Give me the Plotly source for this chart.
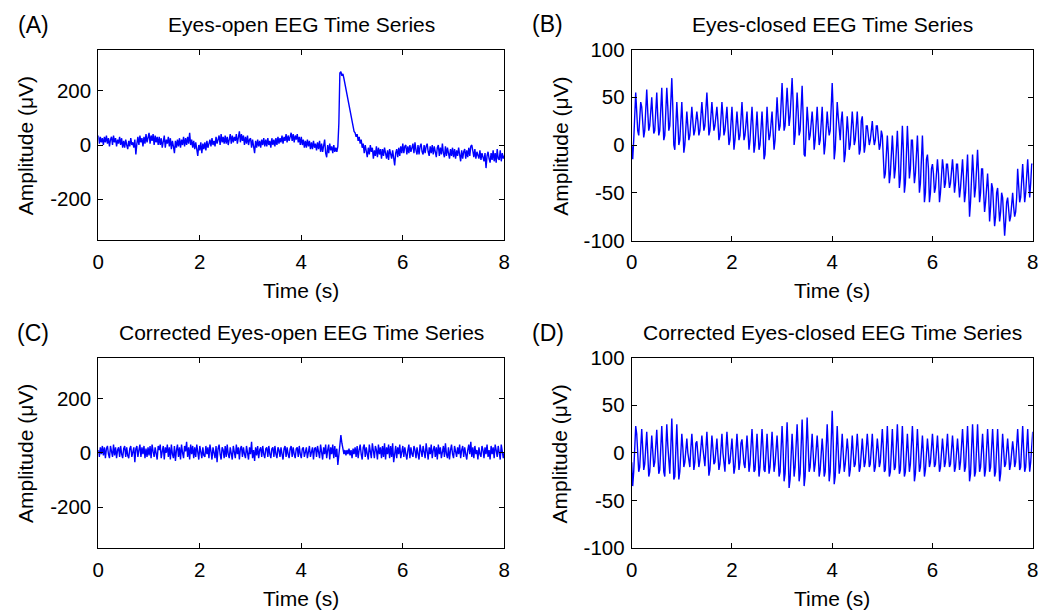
import numpy as np
import plotly.graph_objects as go

# ---------------- data (µV, 50 samples/s over 8 s) ----------------
eyes_open = [
    35, 5, 30, 10, 25,  0, 30, 10, 35, 5,  25, -5, 20, 30, 0,  35, 10, 25, -5, 20,
    5, 30, 0, 25, -10,  15, -10, 20, 0, -15,  15, -5, 25, 0, 10,  -10, 20, -35, 5, 30,
    0, 35, 10, 25, -5,  30, 5, 40, 10, 30,
    45, 5, 35, 15, 40,  0, 35, 10, 30, 0,  30, 0, 25, -10, 20,  35, -10, 20, 5, 30,
    -5, 25, -15, 15, -5,  -30, 15, -10, 20, -5,  25, -10, 20, 0, 30,  -5, 25, 0, 30, 5,
    45, 0, 20, -10, 15,  -15, 10, -25, -40, 0,
    -20, 10, -30, 5, -15,  10, -20, 15, -10, 5,  20, -5, 25, 0, 15,  -5, 30, 5, 25, 35,
    0, 40, 10, 30, 5,  35, 5, 30, 0, 25,  40, 5, 35, 10, 30,  15, 40, 5, 30, 50,
    10, 40, 15, 35, 0,  30, 5, 35, 0, 20,
    25, -10, 20, -15, -30,  15, -10, 20, -5, 15,  -10, 20, 0, 25, -5,  20, -5, 25, 0, 15,
    -10, 25, 0, 20, -5,  25, 0, 30, 5, 25,  10, 35, 5, 30, 15,  40, 10, 35, 15, 30,
    45, 15, 40, 10, 35,  20, 40, 10, 30, 0,
    30, 0, 20, -10, 15,  -10, 20, -5, 15, -15,  10, -15, 15, -10, 5,  -20, 10, -15, 15, -25,
    5, -25, 0, 20, -30,  -45, 0, -30, 5, -20,  -5, -30, 0, -25, -10,
    -25, -5, 80, 265, 270,  255, 262, 245, 225, 200,  185, 160, 140, 120, 100,
    80, 65, 50, 45, 30,  40, 15, 30, 5, 20,  -10, 5, -30, 0, -20,  -45, -10, -35, 0, -25,
    -10, -50, -20, -40, -5,  -45, -10, -35, -15, -50,  -15, -40, -10, -35, -50,
    -20, -55, -15, -40, -50,  -20, -55, -75, -30, -15,  -45, -10, -40, -5, -30,
    5, -30, -5, 0, -35,  -5, -30, 0, -25, -10,  5, -30, 10, -20, -35,
    0, -35, -5, 5, -25,  -35, 0, -30, -5, 5,  -25, -40, -5, -30, 0,
    -35, -5, -30, -45, -10,  0, -40, -10, -35, 5,  -30, -45, -5, -40, -10,
    -35, -50, -15, -40, -10,
    -45, -15, -50, -20, -40,  -10, -45, -60, -20, -50,  -25, -15, -50, -20, -45,
    -10, -40, -5, 0, -35,  -45, -15, -50, -25, -35,  -50, -20, -55, -30, -45,
    -60, -30, -85, -40, -25,  -50, -65, -30, -55, -20,  -60, -30, -65, -15, -50,
    -55, -20, -60, -30, -50,
    -40,
]

eyes_closed = [
    0, -15, 5, 40, 55,  35, 15, 10, 25, 45,  40, 20, 8, 15, 35,  58, 35, 15, 20, 40,
    50, 30, 12, 15, 35,  55, 30, 10, 15, 40,  60, 30, 5, 10, 35,  60, 40, 15, 20, 45,
    70, 40, 0, -5, 20,  45, 25, 0, 5, 30,
    45, 20, -8, 0, 25,  35, 20, 5, 10, 25,  40, 25, 10, 15, 30,  35, 25, 10, 15, 30,
    45, 30, 15, 20, 35,  55, 35, 10, 15, 35,  45, 30, 15, 20, 35,  40, 25, 5, 10, 30,
    45, 30, 10, 15, 30,  40, 20, 0, 5, 25,
    40, 20, -5, 5, 25,  35, 20, 5, 10, 25,  45, 25, 5, 10, 30,  35, 15, -5, 5, 25,
    40, 20, -8, 0, 25,  35, 15, -5, 0, 20,  35, 15, -15, -10, 20,  40, 20, 5, 10, 25,
    35, 15, -5, 5, 30,  50, 30, 15, 20, 45,
    65, 40, 15, 20, 45,  60, 40, 20, 30, 55,  70, 45, 0, 10, 40,  55, 35, 10, 15, 40,
    62, 30, -10, -12, 20,  40, 25, 5, 10, 30,  35, 20, -5, 5, 25,  40, 20, 0, 5, 25,
    40, 15, -10, 0, 25,  35, 20, 10, 15, 40,
    65, 35, -15, -5, 30,  45, 30, 10, 5, 25,  35, 15, -18, -10, 20,  30, 15, -5, 0, 25,
    35, 20, 0, 5, 25,  35, 15, -10, -5, 25,  30, 15, -8, 0, 20,  20, 10, 0, 5, 15,
    25, 10, 0, 5, 20,  20, 10, -5, 0, 15,
    10, -15, -35, -30, -5,  10, -10, -40, -30, -5,  10, -10, -35, -25, 0,  15, -10, -45, -35, -10,
    20, -5, -50, -40, -5,  20, -5, -35, -25, 5,  5, -15, -40, -30, 0,  10, -15, -50, -40, -10,
    10, -20, -60, -50, -15,  -10, -25, -60, -50, -25,
    -20, -30, -50, -45, -25,  -15, -30, -60, -50, -25,  -15, -25, -45, -40, -20,  -20, -30, -45, -40, -25,
    -15, -30, -50, -40, -20,  -20, -35, -55, -45, -25,  -15, -35, -60, -50, -20,  -10, -40, -75, -60, -20,
    -10, -30, -55, -45, -15,  -5, -30, -60, -50, -25,
    -25, -45, -70, -60, -40,  -30, -50, -80, -65, -40,  -45, -65, -85, -75, -50,  -45, -60, -80, -70, -50,
    -55, -75, -95, -80, -60,  -55, -65, -80, -75, -60,  -50, -65, -75, -70, -55,  -25, -45, -60, -55, -35,
    -20, -40, -60, -50, -25,  -15, -35, -55, -40, -20,
    -20,
]

corrected_open = [
    10, -15, 20, -5, 25,  -10, 20, -20, 15, 25,  -5, -20, 25, 10, -15,  30, -10, 20, -20, 10,
    20, -15, 25, -5, -20,  15, 25, -15, 20, -10,  -20, 15, 25, -15, 5,  20, -35, 15, 25, -15,
    10, 30, -15, 20, -5,  25, -20, 15, -15, 20,
    -10, 25, -20, 30, 5,  -15, 20, -5, -25, 25,  10, 30, -20, 5, 25,  -25, 20, 0, 30, -15,
    20, -25, 30, -5, -20,  25, -30, 10, 30, -15,  20, -25, 30, 0, -20,  25, 5, 40, -15, 20,
    -25, 30, -5, 25, -20,  20, -15, 30, -5, -25,
    25, 0, -20, 20, -10,  -15, 25, -5, 20, -20,  30, 5, -25, 20, -5,  -20, 25, -35, 15, 30,
    -5, -25, 20, 10, -20,  25, -15, 30, -5, -20,  20, -10, -25, 25, 5,  -20, 30, -5, 20, -25,
    15, 25, -15, 20, -5,  -20, 25, 5, -25, 20,
    -5, 40, -20, 10, -30,  20, -10, 25, -20, 10,  20, -15, 25, -5, -20,  15, 20, -15, 25, -5,
    -20, 15, 20, -15, 25,  -5, -20, 20, 10, -15,  20, -5, -25, 15, 25,  -15, 20, -5, -20, 15,
    25, -15, 20, -5, -20,  15, 20, -15, 25, -5,
    -20, 15, 20, -15, 5,  20, -20, 10, 25, -15,  5, 20, -25, 15, 20,  -15, 25, -5, -20, 30,
    10, -25, 20, -5, 30,  -20, 10, 30, -25, 20,  -5, 30, -20, 25, -15,  15, -45, -5, 25, 65,
    35, 10, -5, 10, -10,  10, -5, 15, -10, 10,
    -20, 15, -5, 20, -15,  25, -20, 10, 30, -5,  -25, 20, 30, -15, 20,  -5, -25, 30, 10, -20,
    35, -5, -20, 25, 10,  -25, 30, -5, 20, -20,  25, -15, 35, -25, 20,  -5, 30, -20, 25, -15,
    35, -35, 10, 25, -20,  20, -5, 30, -20, 10,
    25, -15, 20, -5, -25,  10, 30, -20, 20, -5,  -15, 25, 10, -20, 20,  -5, -25, 30, 10, -15,
    25, -5, -20, 35, 10,  -25, 20, -5, 30, -20,  10, 25, -15, 20, -25,  30, -5, 20, -20, 10,
    25, -15, 35, -5, -20,  20, -25, 10, 30, -5,
    -20, 25, 10, -15, 20,  -5, 30, -20, 10, 25,  -15, 20, -5, -25, 10,  30, -5, 40, -15, 20,
    -20, 25, -5, 10, -25,  20, -5, -15, 25, 10,  -20, 20, -5, 30, -15,  10, -25, 25, -5, 20,
    -20, 30, 10, -15, 25,  -5, -25, 30, 10, -20,
    0,
]

corrected_closed = [
    -10, -35, -20, 15, 28,  20, -5, -20, -15, 10,  25, 5, -18, -12, 8,  22, 0, -25, -20, 5,
    18, 2, -15, -10, 10,  24, 0, -22, -18, 8,  28, 5, -20, -25, 0,  30, 8, -15, -22, 5,
    36, 5, -28, -25, 10,  30, 0, -28, -20, 8,
    20, 5, -15, -10, 8,  15, 0, -12, -15, 5,  20, 3, -18, -10, 10,  12, 0, -15, -8, 6,
    18, 5, -10, -14, 4,  22, 2, -24, -18, 8,  18, 5, -12, -10, 6,  15, -2, -18, -12, 5,
    20, 0, -15, -20, 4,  22, 5, -12, -10, 8,
    15, -2, -22, -15, 5,  20, 3, -18, -10, 10,  14, 0, -12, -16, 5,  18, 2, -20, -12, 8,
    25, 5, -20, -18, 6,  20, 0, -25, -15, 10,  25, 6, -18, -20, 4,  20, 0, -22, -15, 8,
    22, 3, -20, -12, 6,  18, 0, -25, -20, 5,
    28, 5, -30, -22, 10,  32, 4, -37, -28, 8,  20, 0, -25, -15, 10,  30, 5, -30, -22, 12,
    35, 6, -35, -25, 10,  37, 8, -20, -15, 5,  20, 0, -20, -12, 8,  18, 2, -25, -18, 5,
    15, 0, -25, -20, 8,  30, 5, -30, -20, 10,
    44, 10, -33, -25, 8,  28, 3, -22, -15, 6,  20, 0, -20, -12, 8,  15, 2, -25, -18, 5,
    18, 0, -15, -12, 6,  20, 3, -20, -15, 5,  15, 0, -15, -10, 8,  20, 5, -15, -12, 4,
    20, 0, -20, -15, 6,  15, 3, -15, -10, 8,
    25, 5, -20, -18, 8,  28, 3, -25, -20, 10,  25, 0, -18, -15, 6,  30, 5, -22, -18, 8,
    28, 2, -25, -20, 10,  20, 0, -20, -12, 6,  28, 5, -30, -22, 8,  25, 3, -20, -15, 6,
    18, 0, -25, -18, 5,  15, 2, -15, -10, 8,
    20, 3, -15, -12, 5,  18, 0, -20, -15, 8,  15, 2, -15, -10, 6,  20, 0, -15, -12, 5,
    18, 3, -20, -15, 8,  15, 0, -18, -10, 6,  25, 5, -20, -15, 8,  28, 3, -30, -22, 10,
    30, 5, -25, -20, 8,  30, 2, -20, -15, 10,
    20, 0, -25, -18, 8,  25, 5, -20, -15, 6,  25, 3, -25, -20, 10,  25, 0, -30, -22, 5,
    20, 3, -15, -12, 8,  15, 0, -18, -12, 5,  12, 2, -15, -10, 6,  25, 5, -18, -15, 8,
    28, 3, -20, -15, 6,  25, 0, -20, -10, 15,
    22,
]

titles = ["Eyes-open EEG Time Series", "Eyes-closed EEG Time Series",
          "Corrected Eyes-open EEG Time Series", "Corrected Eyes-closed EEG Time Series"]
panel_labels = ["(A)", "(B)", "(C)", "(D)"]
x_ticks = [0, 2, 4, 6, 8]
y_ticks_open = [-200, 0, 200]
y_ticks_closed = [-100, -50, 0, 50, 100]
x_label = "Time (s)"
y_label = "Amplitude (μV)"

# ---------------- figure ----------------
W, H = 1059, 611
FONT = "Liberation Sans, Arial, sans-serif"
series = [eyes_open, eyes_closed, corrected_open, corrected_closed]
yranges = [[-350, 350], [-100, 100], [-350, 350], [-100, 100]]
yticks = [y_ticks_open, y_ticks_closed, y_ticks_open, y_ticks_closed]

# plot boxes in pixels (left, right, top, bottom)
boxes = [(98.3, 504.3, 50.0, 240.0), (631.7, 1032.7, 49.5, 240.5),
         (98.3, 504.3, 357.5, 548.0), (631.7, 1032.7, 357.5, 548.0)]

fig = go.Figure()
layout = dict(width=W, height=H, margin=dict(l=0, r=0, t=0, b=0, autoexpand=False),
              paper_bgcolor="white", plot_bgcolor="white", showlegend=False,
              font=dict(family=FONT, size=20, color="black"))
annotations = []

for i, (vals, yr, yt, box) in enumerate(zip(series, yranges, yticks, boxes)):
    n = i + 1
    xa = "x" if n == 1 else f"x{n}"
    ya = "y" if n == 1 else f"y{n}"
    t = np.linspace(0, 8, len(vals))
    fig.add_trace(go.Scatter(x=t, y=vals, mode="lines", xaxis=xa, yaxis=ya,
                             line=dict(color="#0000FF", width=1.4), hoverinfo="skip"))
    l, r, tp, bt = box
    common = dict(showline=True, linecolor="black", linewidth=1, mirror="ticks",
                  ticks="inside", ticklen=5, tickcolor="black", showgrid=False,
                  zeroline=False, automargin=False,
                  tickfont=dict(family=FONT, size=20.5, color="black"))
    layout["xaxis" if n == 1 else f"xaxis{n}"] = dict(
        domain=[l / W, r / W], range=[0, 8], anchor=ya,
        tickvals=x_ticks, ticktext=[str(v) for v in x_ticks], ticklabelstandoff=3, **common)
    layout["yaxis" if n == 1 else f"yaxis{n}"] = dict(
        domain=[1 - bt / H, 1 - tp / H], range=yr, anchor=xa,
        tickvals=yt, ticktext=[str(v) for v in yt], ticklabelstandoff=2, **common)
    cx = (l + r) / 2
    cy = (tp + bt) / 2
    annotations.append(dict(text=titles[i], x=cx / W, y=1 - (tp - 25) / H, xref="paper", yref="paper",
                            showarrow=False, xanchor="center", yanchor="middle",
                            font=dict(family=FONT, size=21, color="black")))
    annotations.append(dict(text=panel_labels[i], x=(l - 65) / W if i % 2 == 0 else (l - 84) / W,
                            y=1 - (tp - 25) / H, xref="paper", yref="paper",
                            showarrow=False, xanchor="center", yanchor="middle",
                            font=dict(family=FONT, size=23, color="black")))
    annotations.append(dict(text=x_label, x=cx / W, y=1 - (bt + 50) / H, xref="paper", yref="paper",
                            showarrow=False, xanchor="center", yanchor="middle",
                            font=dict(family=FONT, size=21, color="black")))
    annotations.append(dict(text=y_label, x=(l - 73) / W if i % 2 == 0 else (l - 72) / W,
                            y=1 - (cy + 1) / H, xref="paper", yref="paper", textangle=-90,
                            showarrow=False, xanchor="center", yanchor="middle",
                            font=dict(family=FONT, size=21, color="black")))

layout["annotations"] = annotations
fig.update_layout(**layout)
fig.write_html("out.html", config={"displayModeBar": False, "staticPlot": True},
               post_script="document.body.style.margin='0';document.body.style.overflow='hidden';")
